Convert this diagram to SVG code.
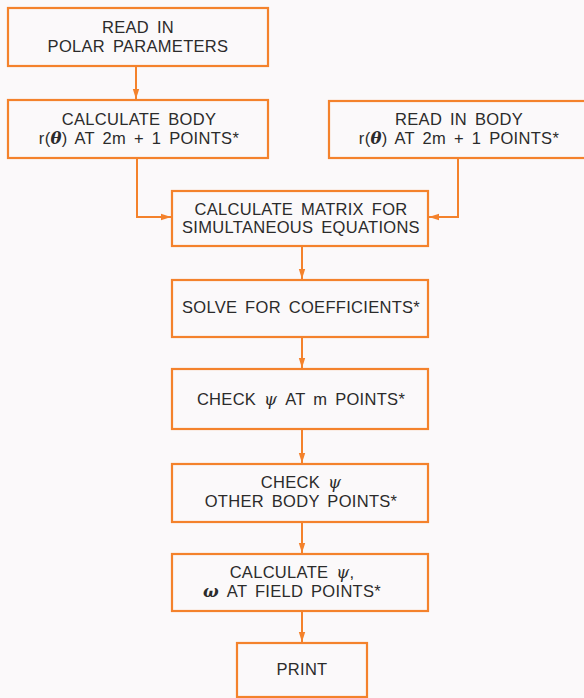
<svg xmlns="http://www.w3.org/2000/svg" width="584" height="698" viewBox="0 0 584 698">
<defs>
<style>
.box{fill:none;stroke:#f4822c;stroke-width:2.2}
.con{fill:none;stroke:#f4822c;stroke-width:2}
.t{font-family:"Liberation Sans","DejaVu Sans",sans-serif;font-size:16.5px;fill:#2b2b2b;text-anchor:middle;letter-spacing:0.3px;word-spacing:3px}
.g{font-family:"DejaVu Serif",serif;font-style:italic;font-weight:bold}
.p{font-family:"DejaVu Serif",serif;font-style:italic}
</style>
<marker id="ah" markerWidth="10" markerHeight="8" refX="10" refY="4" orient="auto" markerUnits="userSpaceOnUse">
<path d="M0,0.8 L10,4 L0,7.2 Z" fill="#f4822c"/>
</marker>
</defs>
<rect x="0" y="0" width="584" height="698" fill="#fbf9fa"/>
<g id="n1"><rect class="box" x="8" y="8" width="260" height="58"/>
<text class="t" x="138" y="33">READ IN</text><text class="t" x="138" y="52">POLAR PARAMETERS</text></g>
<g id="n2"><rect class="box" x="8" y="100" width="260" height="58"/>
<text class="t" x="139" y="125">CALCULATE BODY</text><text class="t" x="139" y="144">r(<tspan class="g">θ</tspan>) AT 2m + 1 POINTS*</text></g>
<g id="n3"><rect class="box" x="329" y="101" width="260" height="57"/>
<text class="t" x="459" y="125">READ IN BODY</text><text class="t" x="459" y="144">r(<tspan class="g">θ</tspan>) AT 2m + 1 POINTS*</text></g>
<g id="n4"><rect class="box" x="172" y="191" width="256" height="55"/>
<text class="t" x="301" y="215">CALCULATE MATRIX FOR</text><text class="t" x="301" y="233">SIMULTANEOUS EQUATIONS</text></g>
<g id="n5"><rect class="box" x="172" y="280" width="256" height="57"/>
<text class="t" x="301" y="313">SOLVE FOR COEFFICIENTS*</text></g>
<g id="n6"><rect class="box" x="172" y="369" width="256" height="60"/>
<text class="t" x="301" y="405">CHECK <tspan class="p">ψ</tspan> AT m POINTS*</text></g>
<g id="n7"><rect class="box" x="172" y="464" width="256" height="58"/>
<text class="t" x="301" y="488">CHECK <tspan class="p">ψ</tspan></text><text class="t" x="301" y="507">OTHER BODY POINTS*</text></g>
<g id="n8"><rect class="box" x="172" y="554" width="256" height="57"/>
<text class="t" x="292" y="578">CALCULATE <tspan class="p">ψ</tspan>,</text><text class="t" x="292" y="597"><tspan class="g">ω</tspan> AT FIELD POINTS*</text></g>
<g id="n9"><rect class="box" x="237" y="643" width="130" height="54"/>
<text class="t" x="302" y="675">PRINT</text></g>
<g id="connectors">
<path class="con" d="M136,66 V99" marker-end="url(#ah)"/>
<path class="con" d="M137,158 V217 H171" marker-end="url(#ah)"/>
<path class="con" d="M458,158 V217 H429" marker-end="url(#ah)"/>
<path class="con" d="M302,246 V279" marker-end="url(#ah)"/>
<path class="con" d="M302,337 V368" marker-end="url(#ah)"/>
<path class="con" d="M302,429 V463" marker-end="url(#ah)"/>
<path class="con" d="M302,522 V553" marker-end="url(#ah)"/>
<path class="con" d="M302,611 V642" marker-end="url(#ah)"/>
</g>
</svg>
